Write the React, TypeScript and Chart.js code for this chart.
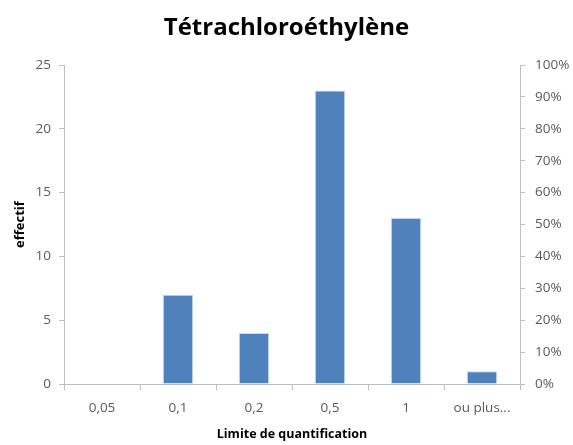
import React, { useEffect, useRef } from "react";
import { Chart, registerables } from "chart.js";

Chart.register(...registerables);

const categories = ["0,05", "0,1", "0,2", "0,5", "1", "ou plus..."];
const effectif = [0, 7, 4, 23, 13, 1];
const chartTitle = "Tétrachloroéthylène";
const xTitle = "Limite de quantification";
const yTitle = "effectif";

export default function App() {
  const ref = useRef<HTMLCanvasElement | null>(null);

  useEffect(() => {
    document.body.style.margin = "0";
    const canvas = ref.current;
    if (!canvas) return;
    const font = "'Open Sans', Lato, sans-serif";
    const chart = new Chart(canvas, {
      type: "bar",
      data: {
        labels: categories,
        datasets: [
          {
            label: yTitle,
            data: effectif,
            backgroundColor: "#4F81BD",
            borderColor: "#C9D8EC",
            borderWidth: 1,
            categoryPercentage: 1,
            barPercentage: 0.4,
            yAxisID: "y",
          },
        ],
      },
      options: {
        animation: false,
        responsive: false,
        maintainAspectRatio: false,
        layout: { padding: { left: 0, right: 0, top: 0, bottom: 0 } },
        plugins: {
          legend: { display: false },
          tooltip: { enabled: false },
          title: {
            display: true,
            text: chartTitle,
            color: "#000",
            font: { family: font, size: 24, weight: "bold" },
            padding: { top: 14, bottom: 22.2 },
          },
        },
        scales: {
          x: {
            grid: {
              display: true,
              drawOnChartArea: false,
              drawTicks: true,
              tickLength: 6,
              color: "#BFBFBF",
              offset: true,
            },
            border: { color: "#BFBFBF" },
            ticks: {
              color: "#595959",
              font: { family: font, size: 13.5 },
              padding: 10,
            },
            title: {
              display: true,
              text: xTitle,
              color: "#000",
              font: { family: font, size: 12.5, weight: "bold" },
              padding: { top: 6, bottom: 3 },
            },
            afterFit: (s: any) => {
              s.height = 61;
            },
          },
          y: {
            position: "left",
            min: 0,
            max: 25,
            ticks: {
              stepSize: 5,
              color: "#595959",
              font: { family: font, size: 13.5 },
              padding: 8,
            },
            grid: {
              display: true,
              drawOnChartArea: false,
              tickLength: 5,
              color: "#BFBFBF",
            },
            border: { color: "#BFBFBF" },
            title: {
              display: true,
              text: yTitle,
              color: "#000",
              font: { family: font, size: 13, weight: "bold" },
              padding: { top: 12, bottom: 4 },
            },
            afterFit: (s: any) => {
              s.width = 64;
            },
          },
          y1: {
            position: "right",
            display: true,
            min: 0,
            max: 1,
            ticks: {
              stepSize: 0.1,
              color: "#595959",
              font: { family: font, size: 13.5 },
              padding: 10,
              callback: (v: any) => Math.round(Number(v) * 100) + "%",
            },
            grid: {
              display: true,
              drawOnChartArea: false,
              tickLength: 5,
              color: "#BFBFBF",
            },
            border: { color: "#BFBFBF" },
            afterFit: (s: any) => {
              s.width = 53;
            },
          },
        },
      },
    });
    return () => chart.destroy();
  }, []);

  return (
    <div style={{ width: 573, height: 445, background: "#fff" }}>
      <canvas ref={ref} width={573} height={445} style={{ display: "block" }} />
    </div>
  );
}
